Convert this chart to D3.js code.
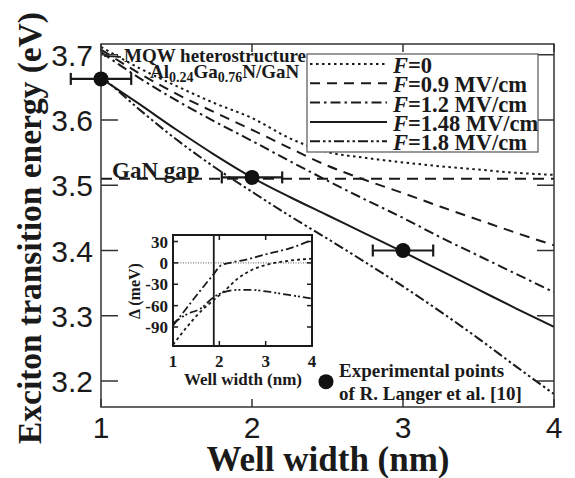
<!DOCTYPE html>
<html><head><meta charset="utf-8">
<script src="https://cdn.jsdelivr.net/npm/d3@7"></script>
<style>body{margin:0;background:#fff}</style>
</head><body>
<svg id="c" width="575" height="478"></svg>
<script>
// ---------- data ----------
const widths   = [1, 1.25, 1.5, 1.75, 2, 2.25, 2.5, 2.75, 3, 3.25, 3.5, 3.75, 4];
const eF0      = [3.712, 3.680, 3.652, 3.626, 3.603, 3.572, 3.551, 3.542, 3.535, 3.529, 3.524, 3.519, 3.516];
const eF09     = [3.708, 3.672, 3.640, 3.612, 3.585, 3.557, 3.530, 3.508, 3.488, 3.467, 3.447, 3.427, 3.408];
const eF12     = [3.704, 3.665, 3.630, 3.598, 3.568, 3.537, 3.507, 3.478, 3.450, 3.420, 3.392, 3.364, 3.336];
const eF148    = [3.664, 3.625, 3.585, 3.547, 3.512, 3.482, 3.454, 3.426, 3.398, 3.369, 3.340, 3.311, 3.283];
const eF18     = [3.668, 3.617, 3.570, 3.528, 3.490, 3.453, 3.418, 3.382, 3.345, 3.306, 3.265, 3.222, 3.180];
const fieldValues = ["0", "0.9 MV/cm", "1.2 MV/cm", "1.48 MV/cm", "1.8 MV/cm"];
const expWidth  = [1, 2, 3];
const expEnergy = [3.663, 3.512, 3.400];
const expErr    = [0.2, 0.2, 0.2];
const gapEnergy = 3.51;
const xTicks = [1, 2, 3, 4];
const yTicks = [3.2, 3.3, 3.4, 3.5, 3.6, 3.7];
// inset
const insWidthsA = [1, 1.3, 1.6, 1.85, 2.05, 2.3, 2.6, 3, 3.5, 4];
const insDashDot = [-88, -63, -38, -18, -3, 1, 5, 12, 20, 32];
const insWidthsB = [1, 1.3, 1.6, 1.88, 2.1, 2.4, 2.7, 3, 3.5, 4];
const insDotted  = [-115, -90, -68, -52, -40, -22, -10, -3, 3, 6];
const insDashDotDot = [-85, -72, -64, -48, -41, -38, -38, -40, -45, -50];
const insSolidWidth = 1.88;
const insXTicks = [1, 2, 3, 4];
const insYTicks = [30, 0, -30, -60, -90];

// ---------- layout ----------
const svg = d3.select("#c");
const serif = "'Liberation Serif','Times New Roman',serif";
const sans = "'Liberation Sans',Arial,sans-serif";
const ink = "#1a1a1a";

const x = d3.scaleLinear().domain([1, 4]).range([101, 554]);
const y = d3.scaleLinear().domain([3.7, 3.2]).range([54.75, 381]);
const pTop = 44, pBot = 407;

const defs = svg.append("defs");
defs.append("clipPath").attr("id", "clipMain")
  .append("rect").attr("x", 101).attr("y", pTop).attr("width", 453).attr("height", pBot - pTop);

const styles = ["2.5,3.5", "10,7", "10,4,2.5,4", null, "10,3,2.5,3,2.5,3"];
const seriesE = [eF0, eF09, eF12, eF148, eF18];

const line = d3.line().x(d => x(d[0])).y(d => y(d[1])).curve(d3.curveMonotoneX);
const gMain = svg.append("g").attr("clip-path", "url(#clipMain)");

// GaN gap
gMain.append("line").attr("x1", x(1)).attr("x2", x(4)).attr("y1", y(gapEnergy)).attr("y2", y(gapEnergy))
  .attr("stroke", ink).attr("stroke-width", 1.8).attr("stroke-dasharray", "11,7");

seriesE.forEach((arr, i) => {
  gMain.append("path").datum(widths.map((w, j) => [w, arr[j]]))
    .attr("d", line).attr("fill", "none").attr("stroke", ink).attr("stroke-width", 2)
    .attr("stroke-dasharray", styles[i]);
});

// frame
svg.append("rect").attr("x", 101).attr("y", pTop).attr("width", 453).attr("height", pBot - pTop)
  .attr("fill", "none").attr("stroke", "#333").attr("stroke-width", 1.5);

// ticks
yTicks.forEach(v => {
  svg.append("line").attr("x1", 101).attr("x2", 118).attr("y1", y(v)).attr("y2", y(v)).attr("stroke", "#333").attr("stroke-width", 1.5);
  svg.append("line").attr("x1", 537).attr("x2", 554).attr("y1", y(v)).attr("y2", y(v)).attr("stroke", "#333").attr("stroke-width", 1.5);
  svg.append("text").attr("x", 93).attr("y", y(v) + 11).attr("text-anchor", "end")
    .attr("font-family", sans).attr("font-size", 30).attr("fill", ink).text(v.toFixed(1));
});
xTicks.forEach(v => {
  svg.append("line").attr("x1", x(v)).attr("x2", x(v)).attr("y1", pBot).attr("y2", pBot - 8).attr("stroke", "#333").attr("stroke-width", 1.5);
  svg.append("line").attr("x1", x(v)).attr("x2", x(v)).attr("y1", pTop).attr("y2", pTop + 8).attr("stroke", "#333").attr("stroke-width", 1.5);
  svg.append("text").attr("x", x(v)).attr("y", 438).attr("text-anchor", "middle")
    .attr("font-family", sans).attr("font-size", 30).attr("fill", ink).text(v);
});

// axis titles
svg.append("text").attr("x", 328).attr("y", 471).attr("text-anchor", "middle")
  .attr("font-family", serif).attr("font-weight", "bold").attr("font-size", 35).attr("fill", ink)
  .text("Well width (nm)");
svg.append("text").attr("transform", "translate(41,228) rotate(-90)").attr("text-anchor", "middle")
  .attr("font-family", serif).attr("font-weight", "bold").attr("font-size", 33).attr("fill", ink)
  .attr("textLength", 432).attr("lengthAdjust", "spacingAndGlyphs")
  .text("Exciton transition energy (eV)");

// annotations
svg.append("line").attr("x1", 104).attr("x2", 121).attr("y1", 56).attr("y2", 57).attr("stroke", ink).attr("stroke-width", 1.5);
svg.append("text").attr("x", 124).attr("y", 62).attr("font-family", serif).attr("font-weight", "bold")
  .attr("font-size", 19).attr("fill", ink).text("MQW heterostructure");
const al = svg.append("text").attr("x", 150).attr("y", 78).attr("font-family", serif).attr("font-weight", "bold")
  .attr("font-size", 19).attr("fill", ink);
al.append("tspan").text("Al");
al.append("tspan").attr("dy", 4).attr("font-size", 14).text("0.24");
al.append("tspan").attr("dy", -4).text("Ga");
al.append("tspan").attr("dy", 4).attr("font-size", 14).text("0.76");
al.append("tspan").attr("dy", -4).text("N/GaN");
svg.append("text").attr("x", 112).attr("y", 178).attr("font-family", serif).attr("font-weight", "bold")
  .attr("font-size", 23).attr("fill", ink).text("GaN gap");

// experimental points
expWidth.forEach((w, i) => {
  const g = svg.append("g");
  const yy = y(expEnergy[i]);
  g.append("line").attr("x1", x(w - expErr[i])).attr("x2", x(w + expErr[i])).attr("y1", yy).attr("y2", yy).attr("stroke", ink).attr("stroke-width", 2.2);
  [w - expErr[i], w + expErr[i]].forEach(e => g.append("line").attr("x1", x(e)).attr("x2", x(e)).attr("y1", yy - 6).attr("y2", yy + 6).attr("stroke", ink).attr("stroke-width", 2.2));
  g.append("circle").attr("cx", x(w)).attr("cy", yy).attr("r", 7.5).attr("fill", "#111");
});
svg.append("circle").attr("cx", x(2.49)).attr("cy", y(3.199)).attr("r", 7.5).attr("fill", "#111");
svg.append("text").attr("x", 339).attr("y", 377).attr("font-family", serif).attr("font-weight", "bold")
  .attr("font-size", 19).attr("fill", ink).text("Experimental points");
svg.append("text").attr("x", 339).attr("y", 400).attr("font-family", serif).attr("font-weight", "bold")
  .attr("font-size", 19).attr("fill", ink).text("of R. Langer et al. [10]");

// legend
svg.append("rect").attr("x", 307).attr("y", 54).attr("width", 231).attr("height", 98)
  .attr("fill", "#fff").attr("stroke", "#555").attr("stroke-width", 1.2);
fieldValues.forEach((f, i) => {
  const base = 73 + i * 19.3;
  svg.append("line").attr("x1", 310).attr("x2", 387).attr("y1", base - 9).attr("y2", base - 9)
    .attr("stroke", ink).attr("stroke-width", 2).attr("stroke-dasharray", styles[i]);
  const t = svg.append("text").attr("x", 393).attr("y", base).attr("font-family", serif).attr("font-weight", "bold")
    .attr("font-size", 22.5).attr("fill", ink);
  t.append("tspan").attr("font-style", "italic").text("F");
  t.append("tspan").text("=" + f);
});

// ---------- inset ----------
const ix = d3.scaleLinear().domain([1, 4]).range([173, 312]);
const iy = d3.scaleLinear().domain([30, -90]).range([241.5, 327]);
const iTop = 235, iBot = 346;
svg.append("rect").attr("x", 173).attr("y", iTop).attr("width", 139).attr("height", iBot - iTop).attr("fill", "#fff");
defs.append("clipPath").attr("id", "clipIns")
  .append("rect").attr("x", 173).attr("y", iTop).attr("width", 139).attr("height", iBot - iTop);
const gi = svg.append("g").attr("clip-path", "url(#clipIns)");
const iline = d3.line().x(d => ix(d[0])).y(d => iy(d[1])).curve(d3.curveMonotoneX);
gi.append("line").attr("x1", ix(1)).attr("x2", ix(4)).attr("y1", iy(0)).attr("y2", iy(0))
  .attr("stroke", "#777").attr("stroke-width", 1.2).attr("stroke-dasharray", "1,1.5");
gi.append("path").datum(insWidthsA.map((w, j) => [w, insDashDot[j]])).attr("d", iline)
  .attr("fill", "none").attr("stroke", ink).attr("stroke-width", 1.8).attr("stroke-dasharray", "8,3,2,3");
gi.append("path").datum(insWidthsB.map((w, j) => [w, insDotted[j]])).attr("d", iline)
  .attr("fill", "none").attr("stroke", ink).attr("stroke-width", 1.8).attr("stroke-dasharray", "3,3");
gi.append("path").datum(insWidthsB.map((w, j) => [w, insDashDotDot[j]])).attr("d", iline)
  .attr("fill", "none").attr("stroke", ink).attr("stroke-width", 1.8).attr("stroke-dasharray", "8,3,2,2,2,3");
gi.append("line").attr("x1", ix(insSolidWidth)).attr("x2", ix(insSolidWidth)).attr("y1", iTop).attr("y2", iBot)
  .attr("stroke", ink).attr("stroke-width", 1.8);
svg.append("rect").attr("x", 173).attr("y", iTop).attr("width", 139).attr("height", iBot - iTop)
  .attr("fill", "none").attr("stroke", ink).attr("stroke-width", 2);
insYTicks.forEach(v => {
  svg.append("line").attr("x1", 173).attr("x2", 178).attr("y1", iy(v)).attr("y2", iy(v)).attr("stroke", ink).attr("stroke-width", 1.5);
  svg.append("line").attr("x1", 307).attr("x2", 312).attr("y1", iy(v)).attr("y2", iy(v)).attr("stroke", ink).attr("stroke-width", 1.5);
  svg.append("text").attr("x", 168).attr("y", iy(v) + 6).attr("text-anchor", "end").attr("font-family", serif)
    .attr("font-weight", "bold").attr("font-size", 17).attr("fill", ink).text(v);
});
insXTicks.forEach(v => {
  svg.append("line").attr("x1", ix(v)).attr("x2", ix(v)).attr("y1", iBot).attr("y2", iBot - 5).attr("stroke", ink).attr("stroke-width", 1.5);
  svg.append("line").attr("x1", ix(v)).attr("x2", ix(v)).attr("y1", iTop).attr("y2", iTop + 5).attr("stroke", ink).attr("stroke-width", 1.5);
  svg.append("text").attr("x", ix(v)).attr("y", 367).attr("text-anchor", "middle").attr("font-family", serif)
    .attr("font-weight", "bold").attr("font-size", 17).attr("fill", ink).text(v);
});
svg.append("text").attr("x", 243).attr("y", 385).attr("text-anchor", "middle").attr("font-family", serif)
  .attr("font-weight", "bold").attr("font-size", 17).attr("fill", ink).text("Well width (nm)");
svg.append("text").attr("transform", "translate(140,291) rotate(-90)").attr("text-anchor", "middle")
  .attr("font-family", serif).attr("font-weight", "bold").attr("font-size", 16).attr("fill", ink).text("Δ (meV)");
</script>
</body></html>
